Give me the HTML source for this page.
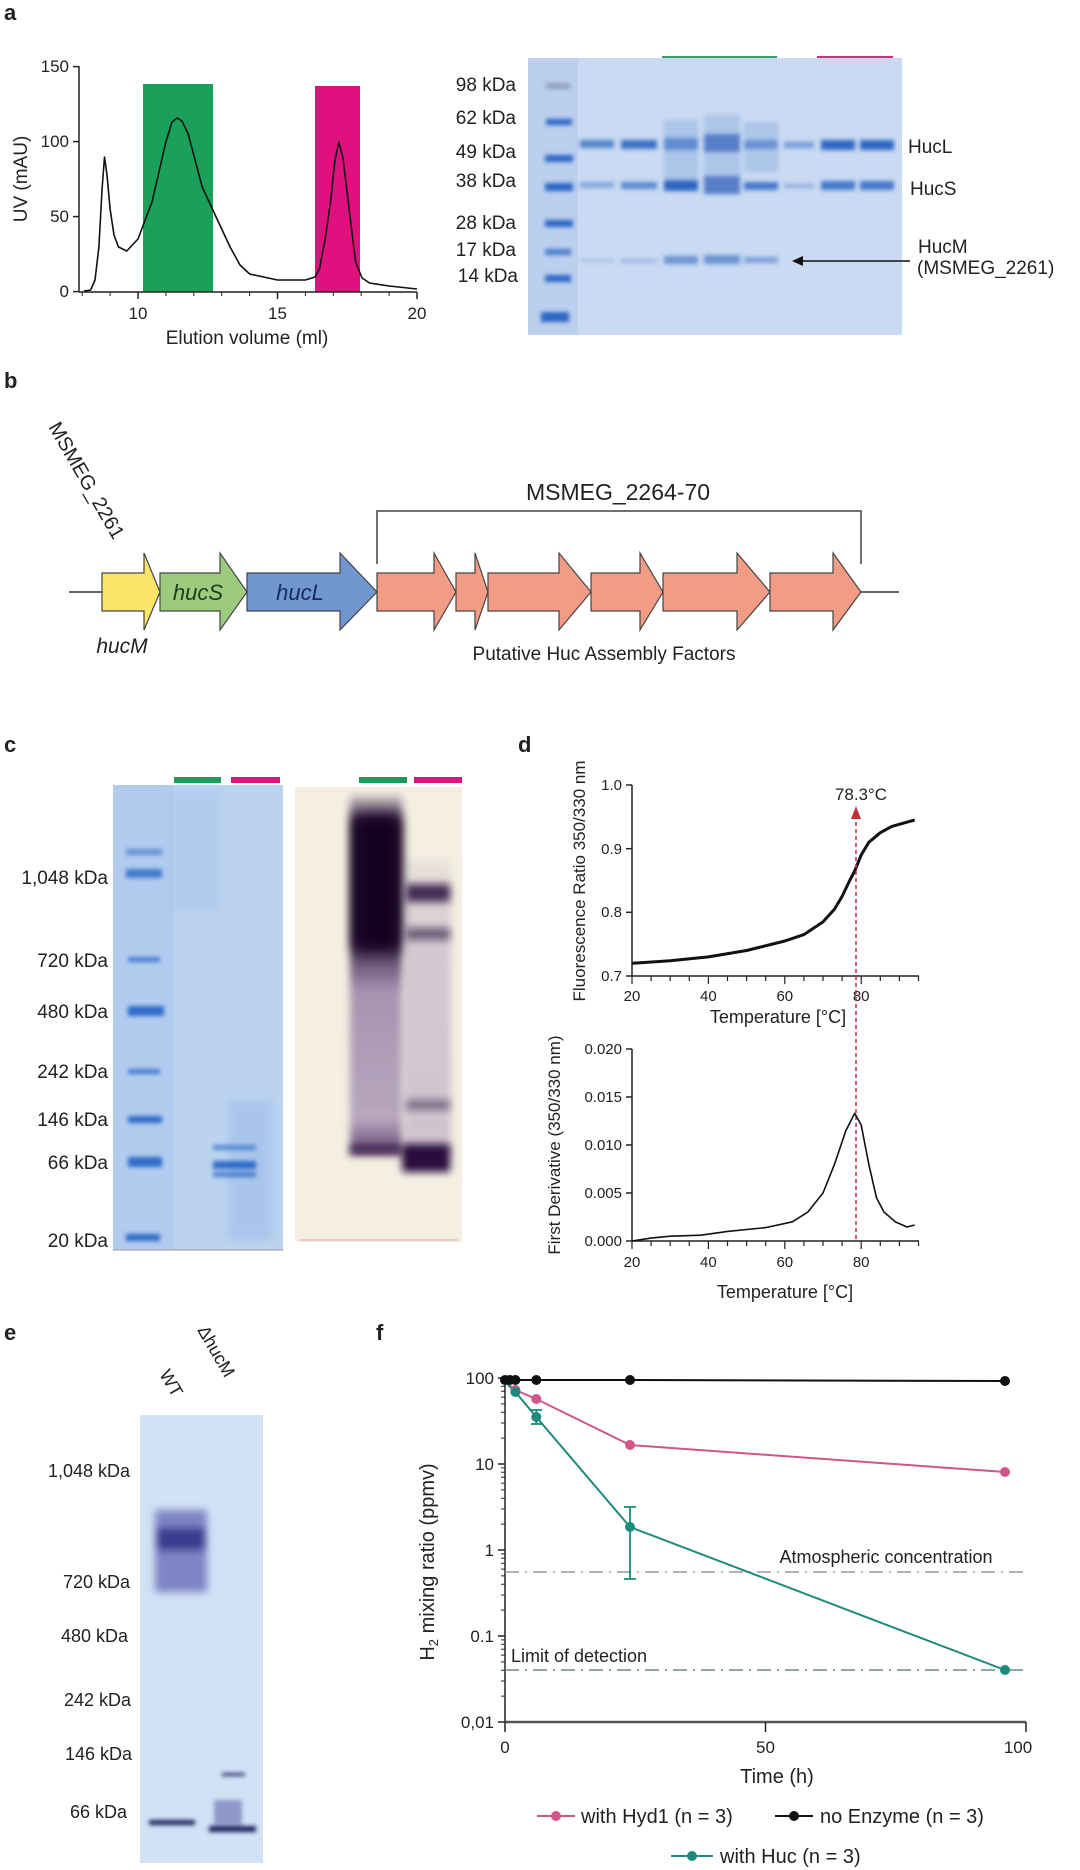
<!DOCTYPE html>
<html><head><meta charset="utf-8"><style>
html,body{margin:0;padding:0;background:#fff}
svg{display:block}
text{font-family:"Liberation Sans",Arial,sans-serif;fill:#222}
</style></head><body>
<svg width="1080" height="1870" viewBox="0 0 1080 1870" xmlns="http://www.w3.org/2000/svg">
<defs>
<filter id="b2" x="-20%" y="-50%" width="140%" height="200%"><feGaussianBlur stdDeviation="2"/></filter>
<filter id="b4" x="-30%" y="-30%" width="160%" height="160%"><feGaussianBlur stdDeviation="4"/></filter>
<filter id="b8" x="-30%" y="-30%" width="160%" height="160%"><feGaussianBlur stdDeviation="7"/></filter>
<linearGradient id="smear1" x1="0" y1="0" x2="0" y2="1">
<stop offset="0" stop-color="#3a2050" stop-opacity="0.2"/>
<stop offset="0.08" stop-color="#1c0a2a" stop-opacity="0.95"/>
<stop offset="0.4" stop-color="#1c0a2a" stop-opacity="0.95"/>
<stop offset="0.55" stop-color="#6a4a8a" stop-opacity="0.55"/>
<stop offset="0.9" stop-color="#7a5c98" stop-opacity="0.5"/>
<stop offset="1" stop-color="#3a2050" stop-opacity="0.9"/>
</linearGradient>
<linearGradient id="smear2" x1="0" y1="0" x2="0" y2="1">
<stop offset="0" stop-color="#8a70a0" stop-opacity="0.1"/>
<stop offset="0.3" stop-color="#9a80b0" stop-opacity="0.35"/>
<stop offset="1" stop-color="#9a80b0" stop-opacity="0.4"/>
</linearGradient>
</defs>

<!-- Panel labels -->
<g font-weight="bold" font-size="22">
<text x="4" y="20">a</text>
<text x="4" y="388">b</text>
<text x="4" y="752">c</text>
<text x="518" y="752">d</text>
<text x="4" y="1340">e</text>
<text x="376" y="1340">f</text>
</g>

<!-- ===== Panel a chart ===== -->
<rect x="143" y="84" width="70" height="208" fill="#1aa05a"/>
<rect x="315" y="86" width="45" height="206" fill="#e0107f"/>
<g stroke="#222" stroke-width="1.5" fill="none">
<line x1="79" y1="66" x2="79" y2="292"/>
<line x1="79" y1="292" x2="417" y2="292"/>
<line x1="73" y1="66.6" x2="79" y2="66.6"/><line x1="73" y1="141.6" x2="79" y2="141.6"/>
<line x1="73" y1="216.6" x2="79" y2="216.6"/><line x1="73" y1="291.6" x2="79" y2="291.6"/>
<line x1="138" y1="292" x2="138" y2="299"/><line x1="277.5" y1="292" x2="277.5" y2="299"/><line x1="417" y1="292" x2="417" y2="299"/>
</g>
<g stroke="#222" stroke-width="1">
<line x1="82.2" y1="292" x2="82.2" y2="296"/><line x1="110.1" y1="292" x2="110.1" y2="296"/>
<line x1="165.9" y1="292" x2="165.9" y2="296"/><line x1="193.8" y1="292" x2="193.8" y2="296"/><line x1="221.7" y1="292" x2="221.7" y2="296"/><line x1="249.6" y1="292" x2="249.6" y2="296"/>
<line x1="305.4" y1="292" x2="305.4" y2="296"/><line x1="333.3" y1="292" x2="333.3" y2="296"/><line x1="361.2" y1="292" x2="361.2" y2="296"/><line x1="389.1" y1="292" x2="389.1" y2="296"/>
</g>
<polyline fill="none" stroke="#111" stroke-width="1.6" stroke-linejoin="round" points="84,291 90.6,290 95,280 98.9,247 102,190 104.5,157 107,175 110.1,209 114,235 118.5,247 126.8,251 138,239 152,202 165.9,142 172,122 177.1,118 182,121 188.2,134 202.2,187 216.1,217 230.1,247 240,265 249.6,274 277.5,280 305.4,280 315,277 319.4,269 325,240 330.5,202 335,160 338.9,142 343,158 347.3,194 355.6,262 362,278 369.6,283 389.1,286 417,289"/>
<g font-size="17" text-anchor="end">
<text x="69" y="72">150</text><text x="69" y="147">100</text><text x="69" y="222">50</text><text x="69" y="297">0</text>
</g>
<g font-size="17" text-anchor="middle">
<text x="138" y="319">10</text><text x="277.5" y="319">15</text><text x="417" y="319">20</text>
<text x="247" y="344" font-size="19">Elution volume (ml)</text>
</g>
<text transform="translate(27,179) rotate(-90)" font-size="19" text-anchor="middle">UV (mAU)</text>

<!-- ===== Panel a gel ===== -->
<rect x="528" y="58" width="374" height="277" fill="#c9daf2"/>
<rect x="528" y="58" width="50" height="277" fill="#bccfee"/>
<line x1="662" y1="57" x2="777" y2="57" stroke="#3aa06a" stroke-width="2"/>
<line x1="817" y1="57" x2="893" y2="57" stroke="#d0307e" stroke-width="2"/>
<g filter="url(#b2)">
<g fill="#2c65c4">
<rect x="546" y="83" width="24" height="6" fill="#8ea0be"/>
<rect x="546" y="119" width="26" height="6"/>
<rect x="545" y="155" width="28" height="7"/>
<rect x="545" y="183" width="28" height="8"/>
<rect x="545" y="220" width="28" height="7"/>
<rect x="545" y="249" width="26" height="6" fill="#4a7ccc"/>
<rect x="545" y="275" width="26" height="7"/>
<rect x="541" y="312" width="28" height="10"/>
</g>
<g fill="#2f66c2">
<rect x="580" y="140" width="34" height="8" opacity="0.75"/>
<rect x="621" y="140" width="36" height="9" opacity="0.9"/>
<rect x="664" y="138" width="34" height="12"/>
<rect x="704" y="134" width="36" height="18" fill="#1f4fb0"/>
<rect x="744" y="140" width="34" height="9" opacity="0.9"/>
<rect x="784" y="142" width="30" height="6" opacity="0.55"/>
<rect x="821" y="140" width="34" height="10"/>
<rect x="860" y="140" width="34" height="10"/>
<rect x="580" y="182" width="34" height="6" opacity="0.45"/>
<rect x="621" y="182" width="36" height="7" opacity="0.7"/>
<rect x="664" y="180" width="34" height="11"/>
<rect x="704" y="176" width="36" height="18" fill="#1f4fb0"/>
<rect x="744" y="182" width="34" height="8" opacity="0.85"/>
<rect x="784" y="184" width="30" height="4" opacity="0.4"/>
<rect x="821" y="181" width="34" height="9" opacity="0.85"/>
<rect x="860" y="181" width="34" height="9" opacity="0.85"/>
<rect x="580" y="259" width="34" height="3" opacity="0.25"/>
<rect x="621" y="259" width="36" height="4" opacity="0.3"/>
<rect x="664" y="256" width="34" height="8" opacity="0.6"/>
<rect x="704" y="255" width="36" height="9" opacity="0.6"/>
<rect x="744" y="257" width="34" height="6" opacity="0.5"/>
</g>
<g fill="#8fb0e0" opacity="0.5">
<rect x="664" y="120" width="34" height="60"/><rect x="704" y="115" width="36" height="80"/><rect x="744" y="122" width="34" height="50"/>
</g>
</g>
<g font-size="19" text-anchor="end">
<text x="516" y="91">98 kDa</text><text x="516" y="124">62 kDa</text><text x="516" y="158">49 kDa</text>
<text x="516" y="187">38 kDa</text><text x="516" y="229">28 kDa</text><text x="516" y="256">17 kDa</text><text x="518" y="282">14 kDa</text>
</g>
<g font-size="19">
<text x="908" y="153">HucL</text><text x="910" y="195">HucS</text>
<text x="918" y="253">HucM</text><text x="917" y="274">(MSMEG_2261)</text>
</g>
<line x1="910" y1="261" x2="797" y2="261" stroke="#111" stroke-width="1.5"/>
<polygon points="792,261 803,256 803,266" fill="#111"/>

<!-- ===== Panel b ===== -->
<line x1="69" y1="592" x2="899" y2="592" stroke="#333" stroke-width="1.5"/>
<g stroke="#444" stroke-width="1.2">
<polygon points="102,573 144,573 144,553 160,592 144,630 144,611 102,611" fill="#fbe46a"/>
<polygon points="160,573 220,573 220,553 247,592 220,630 220,611 160,611" fill="#9dca7c"/>
<polygon points="247,573 340,573 340,553 377,592 340,630 340,611 247,611" fill="#7096d0"/>
<g fill="#f39c85">
<polygon points="377,573 434,573 434,553 456,592 434,630 434,611 377,611"/>
<polygon points="456,573 475,573 475,553 488,592 475,630 475,611 456,611"/>
<polygon points="488,573 559,573 559,553 591,592 559,630 559,611 488,611"/>
<polygon points="591,573 640,573 640,553 663,592 640,630 640,611 591,611"/>
<polygon points="663,573 737,573 737,553 770,592 737,630 737,611 663,611"/>
<polygon points="770,573 833,573 833,553 861,592 833,630 833,611 770,611"/>
</g>
</g>
<polyline points="377,564 377,511 861,511 861,564" fill="none" stroke="#444" stroke-width="1.5"/>
<text x="618" y="500" font-size="23" text-anchor="middle">MSMEG_2264-70</text>
<text x="604" y="660" font-size="19" text-anchor="middle">Putative Huc Assembly Factors</text>
<text x="198" y="600" font-size="22" font-style="italic" text-anchor="middle" style="fill:#1a4020">hucS</text>
<text x="300" y="600" font-size="22" font-style="italic" text-anchor="middle" style="fill:#1a2a60">hucL</text>
<text x="122" y="653" font-size="21" font-style="italic" text-anchor="middle">hucM</text>
<text transform="translate(48,427) rotate(60)" font-size="20">MSMEG_2261</text>

<!-- ===== Panel c left gel ===== -->
<rect x="113" y="785" width="170" height="465" fill="#bcd3f0"/>
<rect x="113" y="785" width="60" height="465" fill="#b2cbee"/>
<rect x="170" y="790" width="50" height="120" fill="#a8c4ea" opacity="0.5" filter="url(#b4)"/>
<rect x="228" y="1100" width="45" height="140" fill="#9fbde8" opacity="0.6" filter="url(#b4)"/>
<line x1="113" y1="1250" x2="283" y2="1250" stroke="#999" stroke-width="1"/>
<line x1="174" y1="780" x2="221" y2="780" stroke="#1f9a5e" stroke-width="6"/>
<line x1="231" y1="780" x2="280" y2="780" stroke="#d8167e" stroke-width="6"/>
<g filter="url(#b2)" fill="#2d6cc8">
<rect x="126" y="849" width="36" height="6" opacity="0.6"/>
<rect x="126" y="869" width="36" height="9" opacity="0.85"/>
<rect x="128" y="957" width="32" height="5" opacity="0.8"/>
<rect x="128" y="1006" width="36" height="10"/>
<rect x="128" y="1069" width="32" height="5" opacity="0.85"/>
<rect x="128" y="1116" width="34" height="7"/>
<rect x="128" y="1157" width="34" height="10"/>
<rect x="126" y="1234" width="34" height="7"/>
<rect x="213" y="1145" width="43" height="5" opacity="0.7"/>
<rect x="213" y="1161" width="43" height="8"/>
<rect x="213" y="1172" width="43" height="5" opacity="0.8"/>
</g>
<g font-size="19" text-anchor="end">
<text x="108" y="884">1,048 kDa</text><text x="108" y="967">720 kDa</text><text x="108" y="1018">480 kDa</text>
<text x="108" y="1078">242 kDa</text><text x="108" y="1126">146 kDa</text><text x="108" y="1169">66 kDa</text><text x="108" y="1247">20 kDa</text>
</g>

<!-- ===== Panel c right gel ===== -->
<rect x="295" y="787" width="167" height="455" fill="#f4efe2"/>
<line x1="359" y1="780" x2="407" y2="780" stroke="#1f9a5e" stroke-width="6"/>
<line x1="414" y1="780" x2="462" y2="780" stroke="#d8167e" stroke-width="6"/>
<rect x="350" y="795" width="52" height="360" fill="url(#smear1)" filter="url(#b4)"/>
<rect x="355" y="815" width="44" height="135" fill="#150520" filter="url(#b8)"/>
<rect x="404" y="860" width="47" height="300" fill="url(#smear2)" filter="url(#b4)"/>
<g filter="url(#b4)" fill="#2a0f40">
<rect x="406" y="884" width="44" height="18" opacity="0.85"/>
<rect x="406" y="928" width="44" height="12" opacity="0.6"/>
<rect x="406" y="1100" width="44" height="10" opacity="0.5"/>
<rect x="402" y="1144" width="48" height="28"/>
<rect x="350" y="1147" width="50" height="6" opacity="0.8"/>
</g>
<line x1="300" y1="1240" x2="458" y2="1240" stroke="#f0c8c8" stroke-width="2"/>

<!-- ===== Panel d top ===== -->
<g stroke="#222" stroke-width="1.5" fill="none">
<line x1="632" y1="785" x2="632" y2="976"/>
<line x1="632" y1="976" x2="919" y2="976"/>
<line x1="626" y1="785" x2="632" y2="785"/><line x1="626" y1="848.7" x2="632" y2="848.7"/>
<line x1="626" y1="912.3" x2="632" y2="912.3"/><line x1="626" y1="976" x2="632" y2="976"/>
</g>
<g stroke="#222" stroke-width="1.2">
<line x1="632" y1="976" x2="632" y2="984"/><line x1="708.4" y1="976" x2="708.4" y2="984"/><line x1="784.8" y1="976" x2="784.8" y2="984"/><line x1="861.2" y1="976" x2="861.2" y2="984"/>
<line x1="651.1" y1="976" x2="651.1" y2="981"/><line x1="670.2" y1="976" x2="670.2" y2="981"/><line x1="689.3" y1="976" x2="689.3" y2="981"/>
<line x1="727.5" y1="976" x2="727.5" y2="981"/><line x1="746.6" y1="976" x2="746.6" y2="981"/><line x1="765.7" y1="976" x2="765.7" y2="981"/>
<line x1="803.9" y1="976" x2="803.9" y2="981"/><line x1="823" y1="976" x2="823" y2="981"/><line x1="842.1" y1="976" x2="842.1" y2="981"/>
<line x1="880.3" y1="976" x2="880.3" y2="981"/><line x1="899.4" y1="976" x2="899.4" y2="981"/><line x1="918.5" y1="976" x2="918.5" y2="981"/>
</g>
<polyline fill="none" stroke="#111" stroke-width="3" stroke-linejoin="round" points="632,963.3 670.2,960.7 708.4,956.9 746.6,950.5 784.8,941 803.9,934.6 823,921.9 834.5,909.1 842.1,896.4 849.7,880.5 854.7,870.9 861.2,855 868.8,842.3 880.3,832.7 891.8,826.4 903.2,823.2 914.7,820"/>
<g font-size="15" text-anchor="end">
<text x="622" y="790">1.0</text><text x="622" y="854">0.9</text><text x="622" y="917">0.8</text><text x="622" y="981">0.7</text>
</g>
<g font-size="15" text-anchor="middle">
<text x="632" y="1001">20</text><text x="708.4" y="1001">40</text><text x="784.8" y="1001">60</text><text x="861.2" y="1001">80</text>
<text x="778" y="1023" font-size="18">Temperature [°C]</text>
</g>
<text transform="translate(585,881) rotate(-90)" font-size="17" text-anchor="middle">Fluorescence Ratio 350/330 nm</text>
<text x="861" y="800" font-size="17" text-anchor="middle">78.3°C</text>
<line x1="856" y1="815" x2="856" y2="1241" stroke="#c0303a" stroke-width="1.5" stroke-dasharray="4,3"/>
<polygon points="856,806 851,819 861,819" fill="#c0303a"/>

<!-- ===== Panel d bottom ===== -->
<g stroke="#222" stroke-width="1.5" fill="none">
<line x1="632" y1="1049" x2="632" y2="1241"/>
<line x1="632" y1="1241" x2="919" y2="1241"/>
<line x1="626" y1="1049" x2="632" y2="1049"/><line x1="626" y1="1097" x2="632" y2="1097"/>
<line x1="626" y1="1145" x2="632" y2="1145"/><line x1="626" y1="1193" x2="632" y2="1193"/><line x1="626" y1="1241" x2="632" y2="1241"/>
</g>
<g stroke="#222" stroke-width="1.2">
<line x1="632" y1="1241" x2="632" y2="1249"/><line x1="708.4" y1="1241" x2="708.4" y2="1249"/><line x1="784.8" y1="1241" x2="784.8" y2="1249"/><line x1="861.2" y1="1241" x2="861.2" y2="1249"/>
<line x1="651.1" y1="1241" x2="651.1" y2="1246"/><line x1="670.2" y1="1241" x2="670.2" y2="1246"/><line x1="689.3" y1="1241" x2="689.3" y2="1246"/>
<line x1="727.5" y1="1241" x2="727.5" y2="1246"/><line x1="746.6" y1="1241" x2="746.6" y2="1246"/><line x1="765.7" y1="1241" x2="765.7" y2="1246"/>
<line x1="803.9" y1="1241" x2="803.9" y2="1246"/><line x1="823" y1="1241" x2="823" y2="1246"/><line x1="842.1" y1="1241" x2="842.1" y2="1246"/>
<line x1="880.3" y1="1241" x2="880.3" y2="1246"/><line x1="899.4" y1="1241" x2="899.4" y2="1246"/><line x1="918.5" y1="1241" x2="918.5" y2="1246"/>
</g>
<polyline fill="none" stroke="#111" stroke-width="1.6" stroke-linejoin="round" points="632,1241 651.1,1238.1 670.2,1236.2 700.8,1235.2 727.5,1231.4 765.7,1227.6 792.4,1221.8 807.7,1212.2 823,1193 834.5,1164.2 845.9,1130.6 854.7,1113.3 861.2,1125 868.8,1164.2 876.5,1197.8 884.1,1212.2 895.6,1222 907,1227 914.7,1225"/>
<g font-size="15" text-anchor="end">
<text x="622" y="1054">0.020</text><text x="622" y="1102">0.015</text><text x="622" y="1150">0.010</text><text x="622" y="1198">0.005</text><text x="622" y="1246">0.000</text>
</g>
<g font-size="15" text-anchor="middle">
<text x="632" y="1267">20</text><text x="708.4" y="1267">40</text><text x="784.8" y="1267">60</text><text x="861.2" y="1267">80</text>
<text x="785" y="1298" font-size="18">Temperature [°C]</text>
</g>
<text transform="translate(560,1145) rotate(-90)" font-size="17" text-anchor="middle">First Derivative  (350/330 nm)</text>

<!-- ===== Panel e gel ===== -->
<rect x="140" y="1415" width="123" height="448" fill="#d2e2f5"/>
<g filter="url(#b4)">
<rect x="155" y="1510" width="52" height="82" fill="#5a5cb0" opacity="0.7"/>
<rect x="157" y="1528" width="48" height="22" fill="#2a2a80" opacity="0.8"/>
</g>
<g filter="url(#b2)">
<rect x="149" y="1820" width="46" height="5" fill="#1a2060"/>
<rect x="209" y="1826" width="47" height="6" fill="#1a2060"/>
<rect x="214" y="1800" width="28" height="25" fill="#4a50a0" opacity="0.5"/>
<rect x="222" y="1773" width="23" height="3" fill="#2a2a70"/>
</g>
<g font-size="18" text-anchor="end">
<text x="130" y="1477">1,048 kDa</text><text x="130" y="1588">720 kDa</text><text x="128" y="1642">480 kDa</text>
<text x="131" y="1706">242 kDa</text><text x="132" y="1760">146 kDa</text><text x="127" y="1818">66 kDa</text>
</g>
<text transform="translate(159,1374) rotate(60)" font-size="18">WT</text>
<text transform="translate(197,1330) rotate(60)" font-size="18">ΔhucM</text>

<!-- ===== Panel f ===== -->
<g stroke="#222" stroke-width="1.5" fill="none">
<line x1="505" y1="1378" x2="505" y2="1722"/>
<line x1="505" y1="1722" x2="1026" y2="1722" stroke="#555" stroke-width="2.5"/>
<line x1="498" y1="1378" x2="505" y2="1378"/><line x1="498" y1="1464" x2="505" y2="1464"/>
<line x1="498" y1="1550" x2="505" y2="1550"/><line x1="498" y1="1636" x2="505" y2="1636"/><line x1="498" y1="1722" x2="505" y2="1722"/>
<line x1="505" y1="1722" x2="505" y2="1732"/><line x1="765.5" y1="1722" x2="765.5" y2="1732"/><line x1="1026" y1="1722" x2="1026" y2="1732"/>
</g>
<g stroke="#222" stroke-width="1">
<path d="M501 1438.1H505M501 1423H505M501 1412.2H505M501 1403.9H505M501 1397.1H505M501 1391.3H505M501 1386.3H505M501 1381.9H505
M501 1524.1H505M501 1509H505M501 1498.2H505M501 1489.9H505M501 1483.1H505M501 1477.3H505M501 1472.3H505M501 1467.9H505
M501 1610.1H505M501 1595H505M501 1584.2H505M501 1575.9H505M501 1569.1H505M501 1563.3H505M501 1558.3H505M501 1553.9H505
M501 1696.1H505M501 1681H505M501 1670.2H505M501 1661.9H505M501 1655.1H505M501 1649.3H505M501 1644.3H505M501 1639.9H505"/>
</g>
<line x1="505" y1="1572" x2="1026" y2="1572" stroke="#999" stroke-width="1.5" stroke-dasharray="14,6,2,6"/>
<line x1="505" y1="1670" x2="1026" y2="1670" stroke="#6a8a86" stroke-width="1.5" stroke-dasharray="14,6,2,6"/>
<text x="886" y="1563" font-size="18" text-anchor="middle">Atmospheric concentration</text>
<text x="511" y="1662" font-size="18">Limit of detection</text>
<!-- series -->
<polyline fill="none" stroke="#111" stroke-width="2" points="505,1380 510,1380 515.4,1380 536.3,1380 630,1380 1005,1381"/>
<polyline fill="none" stroke="#d0568a" stroke-width="2" points="505,1382 515.4,1390 536.3,1399 630,1445 1005,1472"/>
<polyline fill="none" stroke="#1c8a7c" stroke-width="2" points="505,1382 515.4,1392 536.3,1417 630,1527 1005,1670"/>
<g stroke="#1c8a7c" stroke-width="1.8">
<line x1="536.3" y1="1410" x2="536.3" y2="1424"/><line x1="531" y1="1410" x2="542" y2="1410"/><line x1="531" y1="1424" x2="542" y2="1424"/>
<line x1="630" y1="1507" x2="630" y2="1579"/><line x1="624" y1="1507" x2="636" y2="1507"/><line x1="624" y1="1579" x2="636" y2="1579"/>
</g>
<g fill="#d0568a"><circle cx="515.4" cy="1390" r="5"/><circle cx="536.3" cy="1399" r="5"/><circle cx="630" cy="1445" r="5"/><circle cx="1005" cy="1472" r="5"/></g>
<g fill="#1c8a7c"><circle cx="515.4" cy="1392" r="5"/><circle cx="536.3" cy="1417" r="5"/><circle cx="630" cy="1527" r="5"/><circle cx="1005" cy="1670" r="5"/></g>
<g fill="#111"><circle cx="505" cy="1380" r="5"/><circle cx="510" cy="1380" r="5"/><circle cx="515.4" cy="1380" r="5"/><circle cx="536.3" cy="1380" r="5"/><circle cx="630" cy="1380" r="5"/><circle cx="1005" cy="1381" r="5"/></g>
<g font-size="17" text-anchor="end">
<text x="494" y="1384">100</text><text x="494" y="1470">10</text><text x="494" y="1556">1</text><text x="494" y="1642">0.1</text><text x="494" y="1728">0,01</text>
</g>
<g font-size="17" text-anchor="middle">
<text x="505" y="1753">0</text><text x="765.5" y="1753">50</text><text x="1018" y="1753">100</text>
<text x="777" y="1783" font-size="20">Time (h)</text>
</g>
<text transform="translate(434,1562) rotate(-90)" font-size="20" text-anchor="middle">H<tspan font-size="13" dy="4">2</tspan><tspan dy="-4"> mixing ratio (ppmv)</tspan></text>
<!-- legend -->
<line x1="537" y1="1816" x2="575" y2="1816" stroke="#d0568a" stroke-width="2"/><circle cx="556" cy="1816" r="5" fill="#d0568a"/>
<text x="581" y="1823" font-size="20">with Hyd1 (n = 3)</text>
<line x1="775" y1="1816" x2="813" y2="1816" stroke="#111" stroke-width="2"/><circle cx="794" cy="1816" r="5" fill="#111"/>
<text x="820" y="1823" font-size="20">no Enzyme (n = 3)</text>
<line x1="671" y1="1856" x2="713" y2="1856" stroke="#1c8a7c" stroke-width="2"/><circle cx="692" cy="1856" r="5" fill="#1c8a7c"/>
<text x="720" y="1863" font-size="20">with Huc (n = 3)</text>
</svg>
</body></html>
